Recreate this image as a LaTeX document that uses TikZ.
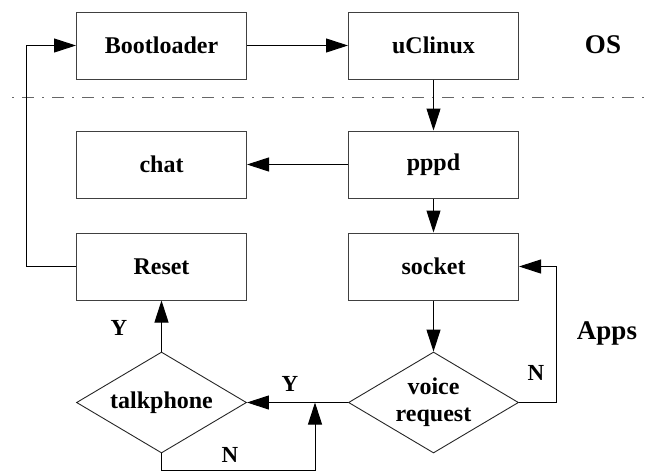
\documentclass[tikz,border=0pt]{standalone}
\usepackage{fontspec}
\setmainfont{Liberation Serif}
\usetikzlibrary{arrows.meta,shapes.geometric}
\begin{document}
\begin{tikzpicture}[x=1pt,y=-1pt,
  box/.style={draw=black!75, line width=1pt, minimum width=170pt, minimum height=67pt, inner sep=0pt, font=\fontsize{24}{27}\selectfont\bfseries},
  dia/.style={draw=black!85, line width=0.9pt, diamond, aspect=1.7, minimum width=170pt, minimum height=101pt, inner sep=0pt, align=center, font=\fontsize{24}{27}\selectfont\bfseries},
  conn/.style={line width=1pt, -{Triangle[length=22pt,width=14pt]}},
  plain/.style={line width=1pt},
  lbl/.style={font=\fontsize{23}{26}\selectfont\bfseries, inner sep=0pt},
  sect/.style={font=\fontsize{27}{30}\selectfont\bfseries, inner sep=0pt},
  sep/.style={draw=black!60, line width=1pt, dash pattern=on 2pt off 8pt on 12pt off 8pt}]
\useasboundingbox (0,0) rectangle (650,471);

\node[box] (boot) at (161.5,45.5) {Bootloader};
\node[box] (ucl)  at (433.5,45.5) {uClinux};
\node[box] (chat) at (161.5,164.5) {chat};
\node[box] (pppd) at (433.5,164.5) {pppd};
\node[box] (reset) at (161.5,266.5) {Reset};
\node[box] (sock) at (433.5,266.5) {socket};
\node[dia] (talk) at (161.5,402.5) {talkphone};
\node[dia] (voice) at (433.5,402.5) {voice\\request};

\node[sect] (os) at (603,45) {OS};
\node[sect] (apps) at (607,333) {Apps};

\coordinate (sepL) at (12,97);
\coordinate (sepR) at (650,97);
\draw[sep] (sepL) -- (sepR);

\coordinate (loopA) at (26,266.5);
\coordinate (loopB) at (26,45.5);
\coordinate (nA) at (556,402.5);
\coordinate (nB) at (556,266.5);
\coordinate (tA) at (161.5,470);
\coordinate (tB) at (315,470);
\coordinate (tC) at (315,402.5);

\draw[conn] (boot) -- (ucl);
\draw[conn] (ucl) -- (pppd);
\draw[conn] (pppd) -- (chat);
\draw[conn] (pppd) -- (sock);
\draw[conn] (sock) -- (voice);
\draw[conn] (voice.west) -- (talk.east);
\draw[conn] (voice.east) -- (nA) -- (nB) -- (sock.east);
\draw[conn] (talk.north) -- (reset.south);
\draw[conn] (talk.south) -- (tA) -- (tB) -- (tC);
\draw[conn] (reset.west) -- (loopA) -- (loopB) -- (boot.west);

\node[lbl] (y1) at (119,328) {Y};
\node[lbl] (y2) at (290,384) {Y};
\node[lbl] (n1) at (536,373) {N};
\node[lbl] (n2) at (230,455) {N};
\end{tikzpicture}
\end{document}
